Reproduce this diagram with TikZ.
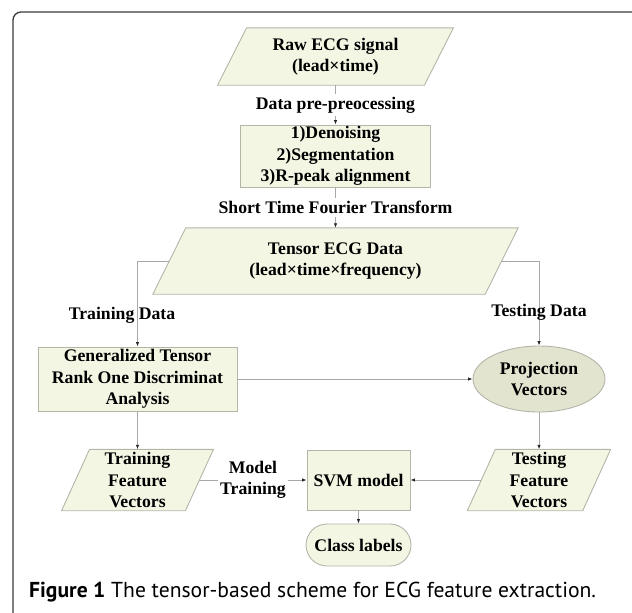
\documentclass[tikz,border=0pt]{standalone}
\usepackage{fontspec}
\setmainfont{Liberation Serif}
\newfontfamily\capfont{PT Sans}
\usetikzlibrary{arrows.meta,backgrounds,shapes.geometric}
\definecolor{boxfill}{HTML}{F4F6E4}
\definecolor{ellfill}{HTML}{E3E4D0}
\definecolor{boxline}{HTML}{B4B4A8}
\definecolor{connc}{HTML}{A8A8A8}
\definecolor{framec}{HTML}{3A3A3A}
\tikzset{
 txt/.style={font=\bfseries\fontsize{17.7}{21.5}\selectfont, align=center, inner sep=0pt},
 rectbox/.style={txt, draw=boxline, fill=boxfill, line width=0.9pt},
 parabox/.style={txt},
 parashape/.style={draw=boxline, fill=boxfill, line width=0.9pt},
 connline/.style={draw=connc, line width=0.8pt},
 arr/.style={connline, -{Latex[length=4.5pt,width=3.5pt,color=black!85]}},
 lbl/.style={txt},
 cutlbl/.style={txt, fill=white, inner xsep=2pt, inner ysep=3pt},
}
\begin{document}
\begin{tikzpicture}[x=1pt,y=-1pt]
\useasboundingbox (0,0) rectangle (632,613);
\draw[framec, line width=1.3pt, rounded corners=8pt] (13,613) -- (13,12) -- (632,12);

\node[parabox, minimum width=206.5pt, minimum height=57pt] (raw) at (335.5,56.5) {Raw ECG signal\\(lead×time)};
\node[rectbox, minimum width=190pt, minimum height=62pt] (den) at (335.5,156) {1)Denoising\\2)Segmentation\\3)R-peak alignment};
\node[parabox, minimum width=332pt, minimum height=66pt] (ten) at (335.5,261) {Tensor ECG Data\\(lead×time×frequency)};
\node[rectbox, minimum width=199pt, minimum height=64pt] (gt) at (137.5,379) {Generalized Tensor\\Rank One Discriminat\\Analysis};
\node[ellipse, txt, draw=boxline, fill=ellfill, line width=0.9pt, minimum width=132pt, minimum height=66pt] (proj) at (539,379) {Projection\\Vectors};
\node[parabox, minimum width=123.5pt, minimum height=61pt] (trf) at (137.5,480) {Training\\Feature\\Vectors};
\node[parabox, minimum width=115pt, minimum height=61pt] (tef) at (539,480) {Testing\\Feature\\Vectors};
\node[rectbox, minimum width=103pt, minimum height=60pt] (svm) at (358.5,480) {SVM model};
\node[rectbox, rounded corners=21pt, minimum width=105pt, minimum height=42pt] (cls) at (358.5,545) {Class labels};

\begin{scope}[on background layer]
\path[parashape] ([xshift=14.5pt]raw.north west) -- ([xshift=14.5pt]raw.north east) -- ([xshift=-14.5pt]raw.south east) -- ([xshift=-14.5pt]raw.south west) -- cycle;
\path[parashape] ([xshift=16.5pt]ten.north west) -- ([xshift=16.5pt]ten.north east) -- ([xshift=-16.5pt]ten.south east) -- ([xshift=-16.5pt]ten.south west) -- cycle;
\path[parashape] ([xshift=14pt]trf.north west) -- ([xshift=14pt]trf.north east) -- ([xshift=-14pt]trf.south east) -- ([xshift=-14pt]trf.south west) -- cycle;
\path[parashape] ([xshift=14pt]tef.north west) -- ([xshift=14pt]tef.north east) -- ([xshift=-14pt]tef.south east) -- ([xshift=-14pt]tef.south west) -- cycle;
\end{scope}

\draw[arr] (raw.south) -- node[cutlbl] (l1) {Data pre-preocessing} (den.north);
\draw[arr] (den.south) -- node[cutlbl] (l2) {Short Time Fourier Transform} (ten.north);
\draw[arr] (ten.west) -| (gt.north);
\draw[arr] (ten.east) -| (proj.north);
\node[lbl] (trd) at (122,315) {Training Data};
\node[lbl] (tsd) at (539,312) {Testing Data};
\draw[arr] (gt.east) -- (proj.west);
\draw[arr] (gt.south) -- (trf.north);
\draw[arr] (proj.south) -- (tef.north);
\draw[arr] (trf.east) -- node[cutlbl] (l3) {Model\\Training} (svm.west);
\draw[arr] (tef.west) -- (svm.east);
\draw[arr] (svm.south) -- (cls.north);

\node[anchor=west, font=\capfont\fontsize{21.6}{25}\selectfont, inner sep=0pt] (cap) at (29,592) {\textbf{Figure 1} The tensor-based scheme for ECG feature extraction.};
\end{tikzpicture}
\end{document}
